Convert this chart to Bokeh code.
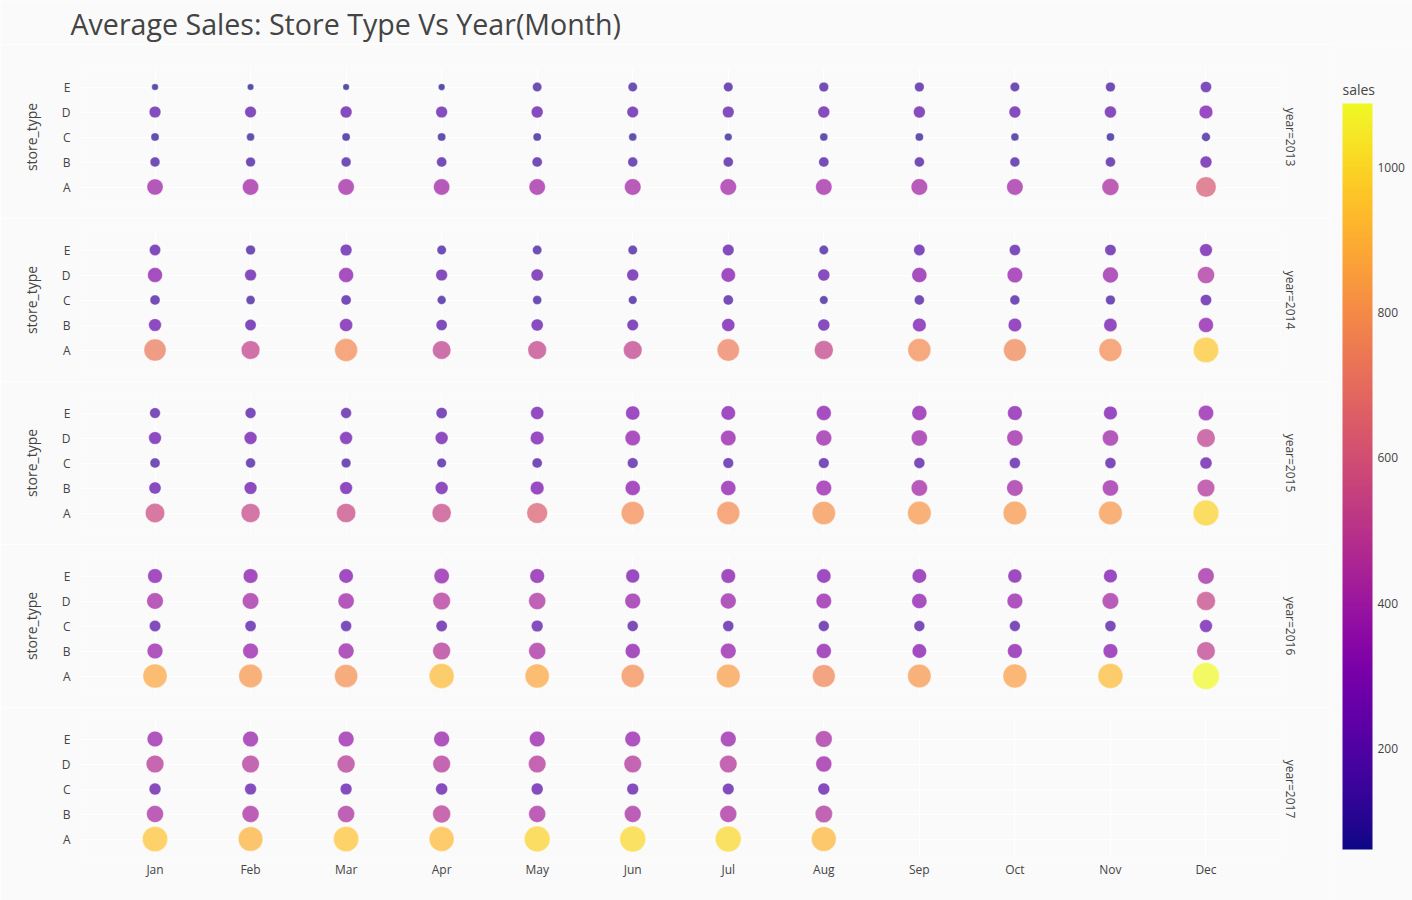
import numpy as np
from bokeh.plotting import figure
from bokeh.models import (ColumnDataSource, FactorRange, Label, ColorBar,
                          LinearColorMapper, SingleIntervalTicker, Title)
from bokeh.palettes import Plasma256
from bokeh.layouts import column, row
from bokeh.transform import transform
from bokeh.embed import file_html
from bokeh.resources import INLINE

# ---------------- data ----------------
months = ["Jan", "Feb", "Mar", "Apr", "May", "Jun",
          "Jul", "Aug", "Sep", "Oct", "Nov", "Dec"]
store_types = ["A", "B", "C", "D", "E"]
years = [2013, 2014, 2015, 2016, 2017]

sales_2013_A = [390, 395, 400, 395, 400, 410, 405, 400, 410, 405, 430, 620]
sales_2013_B = [145, 140, 145, 155, 155, 145, 150, 155, 150, 145, 150, 210]
sales_2013_C = [98, 95, 98, 100, 98, 96, 88, 96, 98, 94, 96, 115]
sales_2013_D = [205, 200, 210, 205, 210, 200, 205, 210, 210, 207, 215, 280]
sales_2013_E = [66, 61, 63, 68, 130, 130, 135, 140, 138, 135, 140, 185]

sales_2014_A = [730, 520, 780, 510, 520, 515, 740, 530, 790, 770, 790, 960]
sales_2014_B = [240, 190, 255, 185, 220, 195, 255, 215, 280, 270, 265, 335]
sales_2014_C = [150, 120, 155, 115, 120, 110, 155, 105, 150, 145, 140, 190]
sales_2014_D = [330, 205, 335, 205, 225, 210, 310, 215, 340, 360, 375, 440]
sales_2014_E = [190, 140, 205, 130, 130, 130, 200, 130, 190, 185, 190, 240]

sales_2015_A = [560, 540, 550, 540, 640, 790, 790, 810, 830, 830, 830, 990]
sales_2015_B = [220, 240, 240, 245, 280, 340, 345, 365, 400, 400, 390, 460]
sales_2015_C = [150, 145, 140, 135, 155, 170, 170, 170, 180, 180, 180, 220]
sales_2015_D = [240, 245, 245, 245, 280, 350, 355, 375, 385, 385, 390, 510]
sales_2015_E = [170, 175, 175, 185, 255, 300, 310, 330, 335, 320, 280, 350]

sales_2016_A = [870, 830, 800, 930, 870, 790, 840, 770, 820, 850, 930, 1088]
sales_2016_B = [370, 365, 375, 470, 430, 335, 365, 335, 310, 320, 320, 510]
sales_2016_C = [195, 185, 180, 190, 205, 180, 180, 175, 175, 175, 180, 245]
sales_2016_D = [410, 405, 390, 460, 435, 370, 375, 355, 345, 365, 410, 535]
sales_2016_E = [320, 320, 310, 350, 320, 285, 315, 305, 310, 290, 280, 400]

sales_2017_A = [950, 900, 950, 925, 990, 1000, 1000, 915]
sales_2017_B = [430, 430, 435, 480, 430, 420, 430, 450]
sales_2017_C = [210, 205, 205, 215, 210, 205, 200, 210]
sales_2017_D = [470, 460, 475, 460, 455, 455, 455, 380]
sales_2017_E = [370, 370, 370, 370, 365, 365, 370, 420]

sales = {
    2013: {"A": sales_2013_A, "B": sales_2013_B, "C": sales_2013_C, "D": sales_2013_D, "E": sales_2013_E},
    2014: {"A": sales_2014_A, "B": sales_2014_B, "C": sales_2014_C, "D": sales_2014_D, "E": sales_2014_E},
    2015: {"A": sales_2015_A, "B": sales_2015_B, "C": sales_2015_C, "D": sales_2015_D, "E": sales_2015_E},
    2016: {"A": sales_2016_A, "B": sales_2016_B, "C": sales_2016_C, "D": sales_2016_D, "E": sales_2016_E},
    2017: {"A": sales_2017_A, "B": sales_2017_B, "C": sales_2017_C, "D": sales_2017_D, "E": sales_2017_E},
}

# ---------------- styling ----------------
FONT = "Open Sans"
BG = "#fafafa"
TXT = "#444444"
D_MAX = 27.0

all_vals = np.concatenate([np.asarray(v, float) for yd in sales.values() for v in yd.values()])
vmin, vmax = float(all_vals.min()), float(all_vals.max())
mapper = LinearColorMapper(palette=Plasma256, low=vmin, high=vmax)

# header with the chart title (spans the full width)
HEADER_H = 44
header = figure(width=1412, height=HEADER_H, min_border=0, x_axis_type=None, y_axis_type=None,
                output_backend="svg", toolbar_location=None,
                background_fill_color=BG, border_fill_color=BG, outline_line_color=None)
header.add_layout(Label(x=70, y=HEADER_H - 23, x_units="screen", y_units="screen",
                        text="Average Sales: Store Type Vs Year(Month)",
                        text_align="left", text_baseline="middle",
                        text_font=FONT, text_font_size="28.6px", text_color=TXT))

figs = []
n = len(years)
for i, yr in enumerate(years):
    xs, ys, vs = [], [], []
    for st in store_types:
        for m, v in zip(months, sales[yr][st]):
            xs.append(m)
            ys.append(st)
            vs.append(v)
    vs = np.asarray(vs, float)
    src = ColumnDataSource(dict(month=xs, store_type=ys, sales=vs,
                                msize=D_MAX * np.sqrt(vs / vmax)))

    top = (67 - HEADER_H) if i == 0 else 12
    bottom = 42 if i == n - 1 else 12
    height = top + 139 + bottom

    p = figure(
        x_range=FactorRange(factors=months, range_padding=0.28, range_padding_units="absolute"),
        y_range=FactorRange(factors=store_types, range_padding=0.28, range_padding_units="absolute"),
        width=1330, height=height,
        min_border_left=80, min_border_right=50,
        min_border_top=top, min_border_bottom=bottom,
        output_backend="svg", toolbar_location=None,
        background_fill_color=BG, border_fill_color=BG, outline_line_color=None,
    )

    p.scatter(x="month", y="store_type", size="msize", source=src,
              fill_color=transform("sales", mapper), fill_alpha=0.7,
              line_color="white", line_width=0.5, line_alpha=0.7)

    p.xgrid.grid_line_color = "white"
    p.ygrid.grid_line_color = "white"
    p.xgrid.grid_line_width = 1
    p.ygrid.grid_line_width = 1

    if i < n - 1:
        p.xaxis.visible = False
    else:
        xa = p.xaxis[0]
        xa.axis_line_color = None
        xa.major_tick_line_color = None
        xa.minor_tick_line_color = None
        xa.major_tick_out = 0
        xa.major_tick_in = 0
        xa.major_label_standoff = 2
        xa.major_label_text_font = FONT
        xa.major_label_text_font_size = "12px"
        xa.major_label_text_color = TXT

    ya = p.yaxis[0]
    ya.axis_line_color = None
    ya.major_tick_line_color = None
    ya.minor_tick_line_color = None
    ya.major_tick_out = 0
    ya.major_tick_in = 0
    ya.major_label_standoff = 10
    ya.major_label_text_font = FONT
    ya.major_label_text_font_size = "12px"
    ya.major_label_text_color = TXT
    if i < n - 1:
        ya.axis_label = "store_type"
        ya.axis_label_text_font = FONT
        ya.axis_label_text_font_size = "14px"
        ya.axis_label_text_font_style = "normal"
        ya.axis_label_text_color = TXT
        ya.axis_label_standoff = 18

    p.add_layout(Title(text=f"year={yr}", align="center", standoff=3,
                       text_font=FONT, text_font_size="12px", text_font_style="normal",
                       text_color=TXT), "right")
    figs.append(p)

# colour bar panel (bar spans y = 103..849 of the page)
CB_H = 900 - HEADER_H
cb_fig = figure(width=82, height=CB_H, min_border=0, x_axis_type=None, y_axis_type=None,
                output_backend="svg", toolbar_location=None,
                background_fill_color=BG, border_fill_color=BG, outline_line_color=None)
color_bar = ColorBar(color_mapper=mapper, location=(12, 51), width=30, height=746,
                     padding=0, ticker=SingleIntervalTicker(interval=200),
                     major_tick_line_color=None, minor_tick_line_color=None,
                     bar_line_color=None, border_line_color=None,
                     background_fill_color=None,
                     label_standoff=5,
                     major_label_text_font=FONT, major_label_text_font_size="12px",
                     major_label_text_color=TXT)
cb_fig.add_layout(color_bar)
cb_fig.add_layout(Label(x=12, y=CB_H - (89 - HEADER_H), x_units="screen", y_units="screen",
                        text="sales", text_align="left", text_baseline="middle",
                        text_font=FONT, text_font_size="14px", text_color=TXT))

layout = column(header, row(column(*figs), cb_fig))
open("out.html", "w").write(file_html(layout, INLINE))
